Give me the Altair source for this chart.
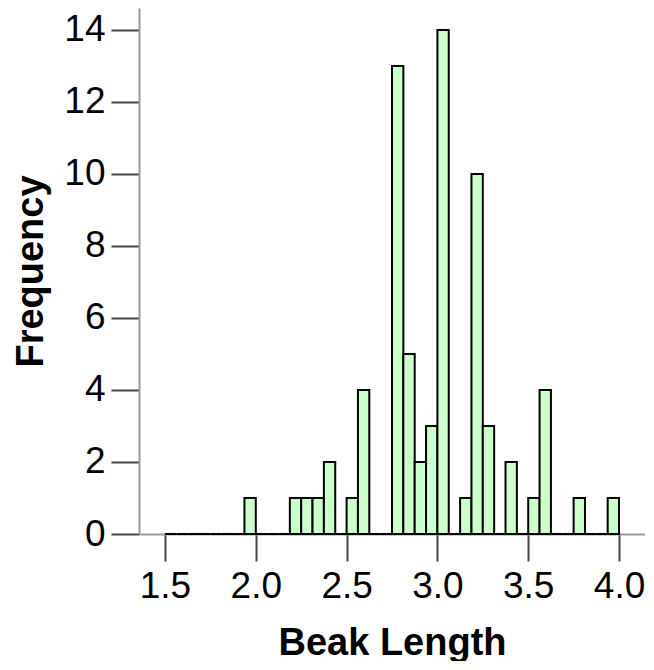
import altair as alt
import pandas as pd

bin_width = 0.0625
bin_start_first = 1.5
counts = [0, 0, 0, 0, 0, 0, 0, 1,
          0, 0, 0, 1, 1, 1, 2, 0,
          1, 4, 0, 0, 13, 5, 2, 3,
          14, 0, 1, 10, 3, 0, 2, 0,
          1, 4, 0, 0, 1, 0, 0, 1]
x_ticks = [1.5, 2.0, 2.5, 3.0, 3.5, 4.0]
y_ticks = [0, 2, 4, 6, 8, 10, 12, 14]

starts = [bin_start_first + i * bin_width for i in range(len(counts))]
df = pd.DataFrame({
    "start": starts,
    "end": [s + bin_width for s in starts],
    "count": counts,
})

FONT = "Liberation Sans"

chart = alt.Chart(df).mark_bar(
    fill="#ccffcc", stroke="#000000", strokeWidth=2, binSpacing=0
).encode(
    x=alt.X("start:Q",
            scale=alt.Scale(domain=[1.357, 4.143], nice=False, zero=False),
            axis=alt.Axis(values=x_ticks, format=".1f", title="Beak Length",
                          grid=False, domainColor="#999999", domainWidth=2,
                          tickColor="#444444", tickWidth=2, tickSize=27,
                          labelFont=FONT, labelFontSize=37, labelColor="#000000",
                          labelPadding=7, labelFlush=False,
                          titleFont=FONT, titleFontSize=38, titleFontWeight="bold",
                          titleColor="#000000", titlePadding=20)),
    x2="end:Q",
    y=alt.Y("count:Q",
            scale=alt.Scale(domain=[0, 14.61], nice=False),
            axis=alt.Axis(values=y_ticks, title="Frequency",
                          grid=False, domainColor="#999999", domainWidth=2,
                          tickColor="#444444", tickWidth=2, tickSize=28,
                          labelFont=FONT, labelFontSize=37, labelColor="#000000",
                          labelPadding=6,
                          titleFont=FONT, titleFontSize=38, titleFontWeight="bold",
                          titleColor="#000000", titlePadding=13)),
    y2=alt.datum(0),
).properties(
    width=506, height=526,
    autosize=alt.AutoSizeParams(type="none"),
    padding={"left": 131, "top": 0, "right": 0, "bottom": 127},
).configure_view(stroke=None)

chart.save("out.html", embed_options={"renderer": "svg", "actions": False})
